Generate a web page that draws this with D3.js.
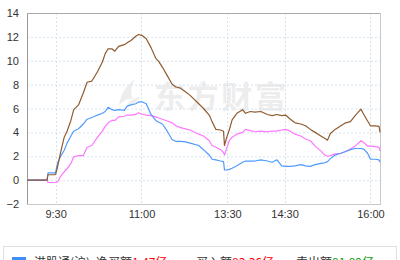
<!DOCTYPE html>
<html>
<head>
<meta charset="utf-8">
<script src="https://cdn.jsdelivr.net/npm/d3@7"></script>
<style>
 body{margin:0;background:#fff;overflow:hidden;}
 svg{display:block;font-family:"Liberation Sans",Arial,sans-serif;}
</style>
</head>
<body>
<div id="chart"></div>
<script>
// Data (亿元), minute samples
var times = ["9:00","9:21","9:22","9:29","9:30","9:32","9:35","9:39","9:42","9:46","9:49","9:54","9:59",
 "10:03","10:08","10:14","10:19","10:22","10:25","10:29","10:32","10:36","10:42","10:45","10:49","10:54","10:57",
 "11:01","11:05","11:10","11:15","11:18","11:22","11:27","11:32","11:36","11:41","11:46","11:51","12:00",
 "13:05","13:11","13:14","13:18","13:23","13:26","13:27","13:29","13:32","13:35","13:40","13:46","13:49","13:54","13:59",
 "14:05","14:12","14:17","14:22","14:27","14:31","14:36","14:41","14:47","14:52","14:57",
 "15:02","15:08","15:12","15:15","15:18","15:23","15:29","15:34","15:39","15:44","15:50","15:53","15:57",
 "16:00","16:05","16:09","16:10"];
var brownVals = [0,0,0.45,0.45,0.5,1.1,2.25,3.6,4.1,5.0,5.9,6.3,7.3,
 8.2,8.3,9.1,9.9,10.6,11.0,11.0,10.8,11.2,11.35,11.5,11.7,12.05,12.2,
 12.1,11.85,11.1,10.2,9.95,9.45,8.75,8.05,7.8,7.7,7.4,7.1,6.4,
 6.0,5.45,4.9,4.25,4.2,4.1,2.9,3.5,4.2,5.05,5.6,5.9,5.6,5.75,5.7,
 5.75,5.5,5.4,5.5,5.4,5.45,5.1,4.8,4.7,4.55,4.25,
 4.0,3.7,3.5,3.35,3.9,4.25,4.55,4.8,4.9,5.4,5.95,5.5,4.95,
 4.55,4.55,4.5,4.0];
var blueVals = [0,0,0.6,0.6,0.65,1.4,1.95,2.5,3.1,3.7,4.1,4.3,4.7,
 5.1,5.25,5.45,5.6,5.75,6.1,5.9,5.85,5.9,5.85,6.2,6.3,6.4,6.55,
 6.55,6.4,5.5,5.0,4.85,4.7,4.1,3.4,3.25,3.25,3.2,3.1,2.9,
 2.55,2.1,1.75,1.7,1.6,1.55,0.85,0.85,0.9,1.0,1.2,1.5,1.6,1.6,1.6,
 1.7,1.6,1.5,1.7,1.2,1.15,1.15,1.2,1.3,1.2,1.15,
 1.3,1.4,1.45,1.55,1.8,2.1,2.25,2.4,2.55,2.65,2.65,2.6,2.25,
 1.75,1.75,1.7,1.5];
var pinkVals = [0,0,-0.2,-0.2,-0.2,-0.15,0.3,0.7,0.95,1.4,1.95,2.05,2.05,
 2.75,2.9,3.6,4.1,4.5,4.8,5.0,5.0,5.3,5.35,5.45,5.45,5.5,5.65,
 5.5,5.45,5.4,5.3,5.2,5.1,4.95,4.8,4.55,4.4,4.3,4.2,3.85,
 3.7,3.3,2.9,2.75,2.55,2.3,2.1,2.6,3.3,3.6,3.85,4.0,4.25,4.15,4.05,
 4.1,4.05,4.1,4.1,4.2,4.25,4.1,3.85,3.7,3.45,3.3,
 2.85,2.45,2.1,2.0,2.05,2.2,2.25,2.4,2.6,2.85,3.3,3.15,2.85,
 2.85,2.8,2.75,2.45];
var xTickLabels = ["9:30","11:00","13:30","14:30","16:00"];
var yTicks = [-2,0,2,4,6,8,10,12,14];
var legendName = "港股通(沪)";
var legendItems = [["净买额","1.47亿","#ff0000"],["买入额","83.36亿","#ff0000"],["卖出额","81.89亿","#00a000"]];

var W = 400, H = 260;
var margin = {top: 13, right: 20, bottom: 56, left: 27};
var width = W - margin.left - margin.right;   // 353
var height = H - margin.top - margin.bottom;  // 191

// trading minutes from 9:00, lunch 12:00-13:00 removed
function toMin(t){
 var p = t.split(":"); var m = (+p[0]) * 60 + (+p[1]) - 540;
 if(m > 180){ m -= 60; }
 return m;
}

var xScale = d3.scaleLinear().domain([0, 370]).range([0, width]);
var yScale = d3.scaleLinear().domain([-2, 14]).range([height, 0]);

var svg = d3.select("#chart").append("svg").attr("width", W).attr("height", H);
var g = svg.append("g").attr("transform", "translate(" + margin.left + "," + margin.top + ")");

// watermark
var wm = g.append("g").attr("fill", "#ededed");
wm.append("path").attr("d", "M92,92 C94,80 100,72 108,66 C104,74 103,80 106,86 C101,84 97,88 92,92 Z M98,95 C102,88 108,84 114,84 C110,88 106,92 98,95 Z");
wm.append("text").attr("x", 127).attr("y", 95).style("font-family", "'Noto Sans CJK SC'")
 .style("font-weight", "bold").style("font-size", "31px").attr("textLength", 132).text("东方财富");

// grid
g.append("g").selectAll("line").data(yTicks.slice(1, -1)).enter().append("line")
 .attr("x1", 0).attr("x2", width)
 .attr("y1", function(d){ return yScale(d) + 0.5; }).attr("y2", function(d){ return yScale(d) + 0.5; })
 .attr("stroke", "#d6e4f2").attr("stroke-dasharray", "2,2");
g.append("g").selectAll("line").data(xTickLabels).enter().append("line")
 .attr("x1", function(d){ return Math.round(xScale(toMin(d))) + 0.5; })
 .attr("x2", function(d){ return Math.round(xScale(toMin(d))) + 0.5; })
 .attr("y1", 0).attr("y2", height)
 .attr("stroke", "#d6e4f2").attr("stroke-dasharray", "2,2");

// frame
g.append("rect").attr("x", 0.5).attr("y", 0.5).attr("width", width).attr("height", height)
 .attr("fill", "none").attr("stroke", "#c8c8c8");
g.append("line").attr("x1", 0.5).attr("x2", 0.5).attr("y1", 0).attr("y2", height).attr("stroke", "#999");
g.append("line").attr("x1", 0).attr("x2", width).attr("y1", 0.5).attr("y2", 0.5).attr("stroke", "#aaa");

// axes
var yAxis = g.append("g").call(d3.axisLeft(yScale).tickValues(yTicks).tickSize(0).tickPadding(8));
yAxis.select(".domain").remove();
yAxis.selectAll("text").style("font-size", "11px").attr("fill", "#333");

var xAxis = g.append("g").attr("transform", "translate(0," + height + ")")
 .call(d3.axisBottom(xScale).tickValues(xTickLabels.map(toMin)).tickSize(0).tickPadding(6)
 .tickFormat(function(d, i){ return xTickLabels[i]; }));
xAxis.select(".domain").remove();
xAxis.selectAll("text").style("font-size", "11px").attr("fill", "#333");

// lines
var series = [[pinkVals, "#ff77ff"], [blueVals, "#4f9bff"], [brownVals, "#8e5c30"]];
var line = d3.line()
 .x(function(d){ return xScale(toMin(d.t)); })
 .y(function(d){ return yScale(d.v); });
series.forEach(function(s){
 var data = times.map(function(t, i){ return {t: t, v: s[0][i]}; });
 g.append("path").datum(data).attr("d", line)
  .attr("fill", "none").attr("stroke", s[1]).attr("stroke-width", 1.2).attr("stroke-linejoin", "round");
});

// legend (cut off at the bottom like the original)
var lg = svg.append("g");
lg.append("rect").attr("x", 3.5).attr("y", 246.5).attr("width", 393).attr("height", 30)
 .attr("fill", "#fff").attr("stroke", "#e0e0e0");
lg.append("rect").attr("x", 12).attr("y", 257).attr("width", 14).attr("height", 10).attr("fill", "#3f8ff5");
var lt = lg.append("text").attr("x", 34).attr("y", 267).style("font-size", "12px")
 .style("font-family", "'Noto Sans CJK SC'").attr("fill", "#333");
lt.append("tspan").text(legendName);
var legX = [96, 196, 296];
legendItems.forEach(function(it, i){
 var t = lg.append("text").attr("x", legX[i]).attr("y", 267).style("font-size", "12px")
  .style("font-family", "'Noto Sans CJK SC'").attr("fill", "#333");
 t.append("tspan").text(it[0]);
 t.append("tspan").attr("fill", it[2]).text(it[1]);
});
</script>
</body>
</html>
